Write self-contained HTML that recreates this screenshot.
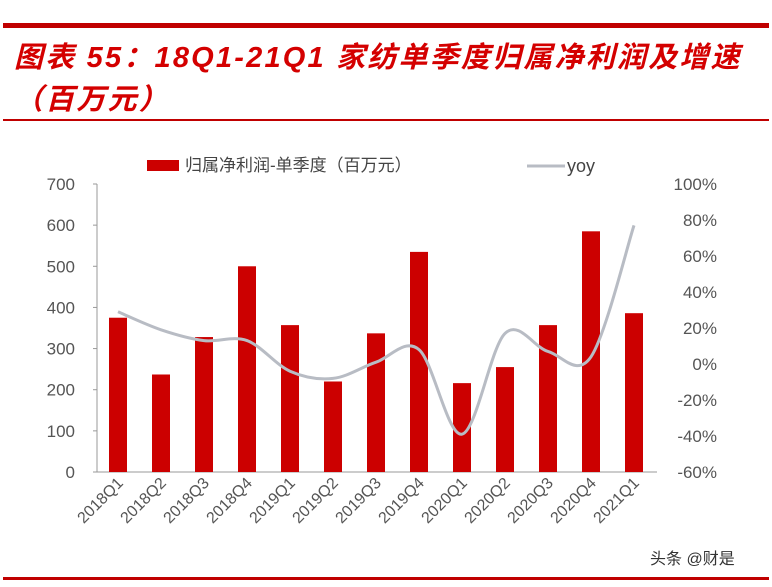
<!DOCTYPE html>
<html><head><meta charset="utf-8"><style>
body{margin:0;background:#fff;width:772px;height:582px;overflow:hidden;font-family:"Liberation Sans","Noto Sans CJK SC",sans-serif}
</style></head><body>
<svg width="772" height="582">
<rect x="3" y="23" width="766" height="5" fill="#c00000"/>
<text x="14" y="67" font-size="29" letter-spacing="2.2" font-weight="bold" font-style="italic" fill="#d40000">图表 55：18Q1-21Q1  家纺单季度归属净利润及增速</text>
<text x="14" y="109" font-size="29" letter-spacing="2.2" font-weight="bold" font-style="italic" fill="#d40000">（百万元）</text>
<rect x="3" y="119" width="766" height="2" fill="#c00000"/>
<rect x="3" y="577" width="766" height="3" fill="#c00000"/>
<g>
<rect x="147" y="160" width="32" height="11" fill="#cc0000"/>
<text x="185" y="171" font-size="17" fill="#444">归属净利润-单季度（百万元）</text>
<line x1="527" y1="166" x2="565" y2="166" stroke="#b8bcc4" stroke-width="3"/>
<text x="567" y="172" font-size="18" fill="#444">yoy</text>
</g>
<g id="axes"></g><g id="bars"></g><g id="line"></g><g id="xl"></g>
<text x="650" y="564" font-size="16" fill="#333">头条 @财是</text>
</svg>
<script>
const categories=["2018Q1","2018Q2","2018Q3","2018Q4","2019Q1","2019Q2","2019Q3","2019Q4","2020Q1","2020Q2","2020Q3","2020Q4","2021Q1"];
const profit=[375,237,328,500,357,220,337,535,216,255,357,585,386];
const yoy=[29,19,13,13,-4,-8,1,8,-39,17,7,4,77];
const leftTicks=[0,100,200,300,400,500,600,700];
const rightTicks=[-60,-40,-20,0,20,40,60,80,100];
const NS="http://www.w3.org/2000/svg";
const yTop=184,yBot=472,x0=97,step=43;
function xs(i){return 118+i*step;}
function yl(v){return yBot-(v/700)*(yBot-yTop);}
function yr(v){return yBot-((v+60)/160)*(yBot-yTop);}
function mk(t,a,p){const e=document.createElementNS(NS,t);for(const k in a)e.setAttribute(k,a[k]);document.getElementById(p).appendChild(e);return e;}
let ax=mk('line',{x1:x0,y1:yTop,x2:x0,y2:yBot,stroke:'#999'},'axes');


let bx=mk('line',{x1:x0,y1:yBot,x2:657,y2:yBot,stroke:'#999'},'axes');


leftTicks.forEach(v=>{
 let t=mk('text',{x:75,y:yl(v)+6,'font-size':17,fill:'#555','text-anchor':'end'},'axes');t.textContent=v;
 
 
 let l=mk('line',{x1:x0-4,y1:yl(v),x2:x0,y2:yl(v),stroke:'#999'},'axes');
 
 
});
rightTicks.forEach(v=>{
 let t=mk('text',{x:717,y:yr(v)+6,'font-size':17,fill:'#555','text-anchor':'end'},'axes');t.textContent=v+'%';
 
 
});
categories.forEach((c,i)=>{
 let r=mk('rect',{x:xs(i)-9,y:yl(profit[i]),width:18,height:yBot-yl(profit[i]),fill:'#cc0000'},'bars');
 
 
 let t=mk('text',{x:0,y:0,'font-size':16,fill:'#555','text-anchor':'end',transform:`translate(${xs(i)+6},${yBot+12}) rotate(-45)`},'xl');t.textContent=c;
 
 
});
const pts=yoy.map((v,i)=>[xs(i),yr(v)]);
let d='M'+pts[0][0]+','+pts[0][1];
for(let i=0;i<pts.length-1;i++){const p0=pts[Math.max(0,i-1)],p1=pts[i],p2=pts[i+1],p3=pts[Math.min(pts.length-1,i+2)];
 d+=` C${p1[0]+(p2[0]-p0[0])/6},${p1[1]+(p2[1]-p0[1])/6} ${p2[0]-(p3[0]-p1[0])/6},${p2[1]-(p3[1]-p1[1])/6} ${p2[0]},${p2[1]}`;}
let pl=mk('path',{d:d,fill:'none',stroke:'#b8bcc4','stroke-width':3},'line');


</script>
</body></html>
